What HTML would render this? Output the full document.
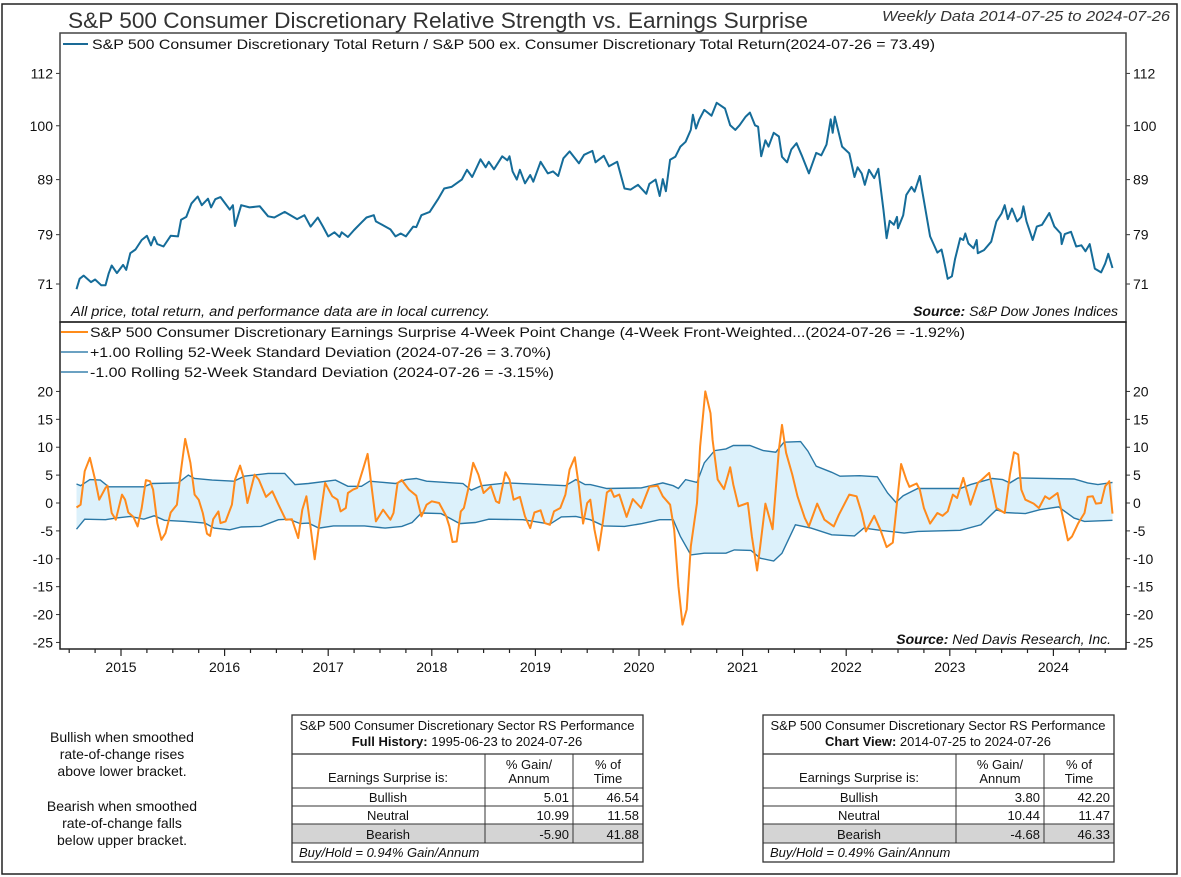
<!DOCTYPE html>
<html><head><meta charset="utf-8">
<style>
html,body{margin:0;padding:0;background:#fff}
svg{display:block;font-family:"Liberation Sans",sans-serif}
</style></head>
<body>
<svg id="chart" width="1181" height="877" viewBox="0 0 1181 877" xmlns="http://www.w3.org/2000/svg">
<rect x="2" y="4" width="1175" height="870" fill="#fff" stroke="#222" stroke-width="1.5"/>
<text x="68" y="28" font-size="22" fill="#333" textLength="740" lengthAdjust="spacingAndGlyphs">S&amp;P 500 Consumer Discretionary Relative Strength vs. Earnings Surprise</text>
<text x="1170" y="21" font-size="15" font-style="italic" fill="#333" text-anchor="end" textLength="288" lengthAdjust="spacingAndGlyphs">Weekly Data 2014-07-25 to 2024-07-26</text>

<g id="gtop"></g>
<g id="gbot"></g>
<g id="xaxis"></g>

<rect x="60" y="33" width="1066" height="289" fill="none" stroke="#444" stroke-width="1.5"/>
<rect x="60" y="322" width="1066" height="327" fill="none" stroke="#222" stroke-width="1.5"/>

<line x1="63" y1="44" x2="88" y2="44" stroke="#1a6a96" stroke-width="2"/>
<text x="92" y="49" font-size="14" fill="#111" textLength="843" lengthAdjust="spacingAndGlyphs">S&amp;P 500 Consumer Discretionary Total Return / S&amp;P 500 ex. Consumer Discretionary Total Return(2024-07-26 = 73.49)</text>
<text x="71" y="316" font-size="13.5" font-style="italic" fill="#111" textLength="419" lengthAdjust="spacingAndGlyphs">All price, total return, and performance data are in local currency.</text>
<text x="1118" y="316" font-size="14" font-style="italic" fill="#111" text-anchor="end"><tspan font-weight="bold">Source:</tspan>   S&amp;P Dow Jones Indices</text>

<line x1="61" y1="332" x2="88" y2="332" stroke="#ff8c1a" stroke-width="2"/>
<text x="90" y="337" font-size="14" fill="#111" textLength="875" lengthAdjust="spacingAndGlyphs">S&amp;P 500 Consumer Discretionary Earnings Surprise 4-Week Point Change (4-Week Front-Weighted...(2024-07-26 = -1.92%)</text>
<line x1="61" y1="352" x2="88" y2="352" stroke="#3a82ad" stroke-width="1.5"/>
<text x="90" y="357" font-size="14" fill="#111" textLength="461" lengthAdjust="spacingAndGlyphs">+1.00 Rolling 52-Week Standard Deviation (2024-07-26 = 3.70%)</text>
<line x1="61" y1="372" x2="88" y2="372" stroke="#3a82ad" stroke-width="1.5"/>
<text x="90" y="377" font-size="14" fill="#111" textLength="464" lengthAdjust="spacingAndGlyphs">-1.00 Rolling 52-Week Standard Deviation (2024-07-26 = -3.15%)</text>
<text x="1111" y="644" font-size="14" font-style="italic" fill="#111" text-anchor="end"><tspan font-weight="bold">Source:</tspan>   Ned Davis Research, Inc.</text>

<g font-size="14" fill="#111" text-anchor="middle">
<text x="122" y="742">Bullish when smoothed</text>
<text x="122" y="759">rate-of-change rises</text>
<text x="122" y="776">above lower bracket.</text>
<text x="122" y="811">Bearish when smoothed</text>
<text x="122" y="828">rate-of-change falls</text>
<text x="122" y="845">below upper bracket.</text>
</g>

<g id="tables"></g>
</svg>

<script>
// ---- data ----
var rsDates=[2014.57,2014.60,2014.64,2014.71,2014.75,2014.81,2014.85,2014.88,2014.91,2014.96,2015.02,2015.05,2015.09,2015.14,2015.20,2015.25,2015.29,2015.32,2015.35,2015.41,2015.48,2015.55,2015.58,2015.63,2015.68,2015.74,2015.78,2015.84,2015.87,2015.91,2015.96,2016.05,2016.08,2016.10,2016.16,2016.24,2016.34,2016.42,2016.48,2016.58,2016.70,2016.77,2016.83,2016.90,2016.95,2017.00,2017.06,2017.11,2017.13,2017.19,2017.25,2017.32,2017.37,2017.44,2017.46,2017.52,2017.60,2017.65,2017.70,2017.75,2017.82,2017.85,2017.90,2017.98,2018.06,2018.12,2018.19,2018.29,2018.34,2018.39,2018.47,2018.52,2018.55,2018.60,2018.68,2018.73,2018.75,2018.78,2018.82,2018.85,2018.90,2018.95,2018.98,2019.05,2019.12,2019.17,2019.22,2019.27,2019.33,2019.42,2019.47,2019.55,2019.58,2019.66,2019.71,2019.79,2019.86,2019.92,2019.99,2020.07,2020.10,2020.16,2020.20,2020.23,2020.26,2020.30,2020.35,2020.40,2020.45,2020.50,2020.52,2020.55,2020.58,2020.63,2020.70,2020.75,2020.83,2020.88,2020.93,2020.97,2021.03,2021.07,2021.12,2021.15,2021.18,2021.22,2021.25,2021.30,2021.35,2021.38,2021.43,2021.47,2021.52,2021.57,2021.64,2021.71,2021.76,2021.81,2021.85,2021.87,2021.89,2021.96,2022.03,2022.08,2022.11,2022.15,2022.18,2022.22,2022.27,2022.31,2022.36,2022.39,2022.42,2022.46,2022.49,2022.50,2022.55,2022.58,2022.63,2022.66,2022.71,2022.73,2022.81,2022.88,2022.92,2022.94,2022.98,2023.02,2023.05,2023.10,2023.13,2023.15,2023.18,2023.23,2023.26,2023.27,2023.33,2023.40,2023.45,2023.50,2023.53,2023.56,2023.60,2023.65,2023.69,2023.71,2023.74,2023.80,2023.84,2023.89,2023.96,2024.01,2024.07,2024.08,2024.11,2024.17,2024.22,2024.27,2024.31,2024.35,2024.40,2024.46,2024.50,2024.53,2024.57];
var rsValues=[70.2,71.8,72.3,71.3,71.7,70.8,70.8,72.6,73.9,72.7,74.0,73.2,75.9,76.5,78.1,78.8,77.2,78.6,77.4,77.0,78.8,78.7,81.6,82.1,84.5,85.8,84.2,85.4,83.8,85.3,85.7,83.4,84.2,80.5,84.2,83.8,84.0,82.2,82.0,83.0,81.7,82.4,80.4,82.0,80.4,78.7,79.4,78.6,79.4,78.6,79.8,81.1,82.0,82.4,81.3,80.7,79.9,78.7,79.2,78.7,80.4,80.3,82.4,83.0,85.3,87.3,87.6,89.0,90.9,89.5,93.0,91.4,92.5,91.0,93.6,92.8,93.6,90.6,89.0,90.9,88.3,89.9,88.6,92.5,90.2,90.6,89.7,93.2,94.6,92.2,93.9,94.7,92.4,93.7,91.6,92.5,87.3,87.1,88.0,86.3,88.2,89.0,85.9,89.1,86.8,92.9,93.5,95.6,96.6,99.1,102.4,99.4,101.3,103.5,102.2,105.1,103.8,100.1,99.1,100.1,102.0,102.9,100.1,99.8,93.6,96.9,95.6,98.5,97.7,93.5,92.4,95.0,96.3,93.8,90.2,94.3,93.8,96.0,101.4,98.5,102.0,95.6,94.2,89.5,91.4,90.2,88.0,90.9,89.3,91.1,83.3,78.4,81.4,80.7,82.1,80.1,82.4,86.1,87.6,86.7,89.7,87.3,78.7,76.0,76.5,75.0,71.8,72.2,74.9,78.4,78.1,79.2,77.5,76.7,78.1,75.9,76.4,77.8,81.3,82.7,84.2,81.7,83.6,81.3,82.1,84.0,81.3,78.1,80.4,80.7,82.8,80.4,79.2,77.4,79.1,79.5,77.0,77.2,76.2,77.4,73.4,72.8,74.2,75.8,73.5];

var esDates=[2014.57,2014.61,2014.65,2014.70,2014.75,2014.79,2014.85,2014.87,2014.91,2014.95,2015.01,2015.04,2015.07,2015.12,2015.16,2015.20,2015.24,2015.28,2015.31,2015.35,2015.39,2015.43,2015.48,2015.54,2015.58,2015.62,2015.67,2015.71,2015.75,2015.79,2015.83,2015.86,2015.89,2015.94,2015.96,2016.01,2016.07,2016.10,2016.15,2016.18,2016.22,2016.29,2016.33,2016.40,2016.46,2016.52,2016.59,2016.65,2016.71,2016.75,2016.79,2016.82,2016.87,2016.91,2016.97,2017.04,2017.09,2017.12,2017.17,2017.19,2017.24,2017.28,2017.34,2017.38,2017.41,2017.46,2017.53,2017.60,2017.63,2017.67,2017.71,2017.78,2017.85,2017.90,2017.95,2018.00,2018.07,2018.14,2018.17,2018.20,2018.24,2018.28,2018.31,2018.35,2018.40,2018.45,2018.50,2018.57,2018.62,2018.65,2018.71,2018.75,2018.79,2018.85,2018.90,2018.95,2018.99,2019.05,2019.09,2019.14,2019.18,2019.24,2019.29,2019.33,2019.38,2019.42,2019.46,2019.50,2019.53,2019.57,2019.61,2019.65,2019.69,2019.73,2019.76,2019.81,2019.88,2019.94,2020.02,2020.10,2020.18,2020.23,2020.30,2020.34,2020.38,2020.42,2020.46,2020.50,2020.56,2020.59,2020.64,2020.69,2020.71,2020.76,2020.82,2020.88,2020.91,2020.96,2021.05,2021.09,2021.14,2021.17,2021.22,2021.29,2021.35,2021.38,2021.42,2021.48,2021.53,2021.60,2021.64,2021.72,2021.79,2021.88,2021.93,2022.03,2022.10,2022.15,2022.19,2022.27,2022.33,2022.39,2022.45,2022.48,2022.53,2022.58,2022.61,2022.68,2022.71,2022.75,2022.81,2022.88,2022.93,2022.98,2023.03,2023.07,2023.13,2023.20,2023.27,2023.31,2023.38,2023.45,2023.53,2023.58,2023.62,2023.66,2023.69,2023.73,2023.81,2023.86,2023.92,2023.96,2024.04,2024.09,2024.14,2024.18,2024.24,2024.30,2024.33,2024.38,2024.41,2024.46,2024.50,2024.54,2024.57];
var esValues=[-0.8,-0.3,5.7,8.1,4.2,0.6,2.7,3.1,-1.8,-3.0,1.5,0.6,-1.7,-2.5,-4.2,-0.9,4.1,3.9,2.4,-3.6,-6.6,-5.4,-1.7,-0.3,6.0,11.5,7.2,1.5,0.6,-1.8,-5.5,-5.9,-2.9,-1.5,-3.6,-3.3,-0.3,4.2,6.7,4.8,0,5.1,4.2,1.1,2.1,-0.3,-3.0,-2.9,-6.3,-1.2,1.2,-3.0,-10.1,-4.2,3.6,1.2,0.6,-1.5,-0.9,1.8,2.4,2.7,6.3,8.8,4.2,-3.3,-1.2,-3.0,-1.8,3.6,4.1,2.4,1.3,-2.4,-0.3,0.3,0,-2.4,-4.2,-7.0,-6.9,-1.5,-0.9,2.4,7.2,5.1,1.8,3.0,0.3,0,5.5,4.2,0.6,1.1,-2.4,-4.5,-1.7,-1.3,-3.6,-3.9,-1.5,-0.9,1.5,6.0,8.2,3.0,-3.7,0,0.6,-4.8,-8.5,-3.6,1.9,2.4,1.1,1.5,-2.5,0.7,-0.9,2.9,3.1,1.2,-0.3,-4.8,-14.9,-21.8,-19.1,-7.8,0,10.1,20.0,16.1,11.3,4.2,2.5,6.4,3.3,-0.6,0,-6.0,-12.1,-7.8,-0.1,-4.7,9.6,14.0,9.0,5.1,1.2,-2.7,-4.2,-0.1,-3.0,-4.2,-2.1,1.5,1.2,-1.8,-5.1,-2.3,-4.8,-7.9,-7.1,-1.8,7.0,4.2,2.9,3.5,2.4,-0.9,-3.7,-1.8,-2.3,-1.5,1.5,0.9,4.5,-0.3,3.6,4.2,5.4,-0.9,-1.8,5.1,9.1,8.7,2.4,0.6,-0.1,-0.9,1.2,0.7,1.8,-2.4,-6.7,-6.0,-3.6,-1.8,1.1,1.2,-0.1,0,3.0,3.9,-1.9];

var upDates=[2014.57,2014.61,2014.70,2014.80,2014.88,2015.22,2015.30,2015.55,2015.65,2015.71,2015.88,2016.09,2016.19,2016.42,2016.58,2016.68,2016.81,2017.07,2017.19,2017.32,2017.40,2017.65,2017.75,2017.85,2017.95,2018.30,2018.38,2018.48,2018.72,2019.29,2019.39,2019.48,2019.53,2019.69,2020.02,2020.23,2020.33,2020.38,2020.45,2020.56,2020.63,2020.73,2020.84,2020.91,2021.07,2021.20,2021.32,2021.40,2021.56,2021.63,2021.71,2021.86,2021.94,2022.13,2022.30,2022.40,2022.48,2022.55,2022.69,2023.10,2023.20,2023.41,2023.51,2023.58,2023.66,2024.20,2024.33,2024.43,2024.57];
var upValues=[3.4,3.1,4.2,4.1,2.9,2.9,3.5,3.6,5.0,4.4,4.1,3.9,4.8,5.3,5.3,3.3,3.5,4.1,3.0,3.0,3.9,3.5,4.2,4.4,3.9,3.5,2.3,3.1,3.6,3.1,4.2,3.3,3.3,2.6,2.7,3.6,3.1,2.6,4.2,3.7,7.2,9.4,9.7,10.3,10.3,9.4,9.1,10.9,11.0,9.3,6.6,5.5,4.8,4.9,4.7,1.8,0.1,1.3,2.6,2.6,3.3,4.4,4.2,3.6,4.5,4.3,3.6,3.3,3.7];

var loDates=[2014.57,2014.65,2014.85,2014.95,2015.09,2015.22,2015.32,2015.42,2015.62,2015.81,2015.90,2016.05,2016.16,2016.35,2016.52,2016.62,2016.73,2016.81,2016.91,2017.05,2017.35,2017.55,2017.71,2017.81,2017.90,2018.09,2018.15,2018.27,2018.42,2018.55,2018.88,2019.08,2019.14,2019.25,2019.39,2019.53,2019.66,2019.86,2020.03,2020.20,2020.33,2020.40,2020.50,2020.63,2020.84,2020.92,2021.08,2021.17,2021.30,2021.38,2021.51,2021.66,2021.86,2022.08,2022.17,2022.33,2022.56,2022.69,2023.10,2023.30,2023.45,2023.53,2023.73,2023.87,2024.05,2024.20,2024.30,2024.57];
var loValues=[-4.7,-2.9,-3.0,-2.7,-2.4,-2.9,-2.3,-3.1,-3.3,-3.6,-4.5,-4.8,-4.3,-4.2,-3.0,-2.9,-3.7,-3.6,-4.5,-4.1,-4.1,-4.5,-4.2,-3.5,-1.8,-1.9,-2.5,-3.7,-3.5,-2.9,-3.0,-3.6,-3.8,-2.5,-2.4,-3.0,-4.1,-4.2,-3.7,-3.0,-3.0,-6.0,-9.3,-9.0,-9.0,-8.4,-8.5,-9.9,-10.4,-9.0,-3.9,-4.5,-5.7,-5.9,-4.5,-4.9,-5.4,-5.1,-4.9,-3.9,-1.2,-1.7,-1.9,-1.2,-0.7,-2.7,-3.3,-3.1];

var topTicks=[71,79,89,100,112];
var botTicks=[20,15,10,5,0,-5,-10,-15,-20,-25];
var yearLabels=[2015,2016,2017,2018,2019,2020,2021,2022,2023,2024];

// ---- axes ----
var NS="http://www.w3.org/2000/svg";
function xS(yr){return 121+(yr-2015)*103.6;}
function yTop(v){return 284-(Math.log(v)-Math.log(71))*462;}
function yBot(v){return 503-v*5.578;}
function mk(tag,attrs,parent){var e=document.createElementNS(NS,tag);for(var k in attrs)e.setAttribute(k,attrs[k]);parent.appendChild(e);return e;}
function pts(ds,vs,fy){var s=[];for(var i=0;i<ds.length;i++)s.push(xS(ds[i]).toFixed(1)+","+fy(vs[i]).toFixed(1));return s;}

var gTop=document.getElementById('gtop'), gBot=document.getElementById('gbot'), xa=document.getElementById('xaxis');

topTicks.forEach(function(t){
  var y=yTop(t);
  var a=mk('line',{x1:56,y1:y,x2:60,y2:y,stroke:'#333'},gTop);
  
  
  var b=mk('line',{x1:1126,y1:y,x2:1130,y2:y,stroke:'#333'},gTop);
  
  
  var l=mk('text',{x:53,y:y+5,'font-size':14,'text-anchor':'end',fill:'#111'},gTop);l.textContent=t;
  
  
  var r=mk('text',{x:1133,y:y+5,'font-size':14,fill:'#111'},gTop);r.textContent=t;
  
  
});
var rsl=mk('polyline',{points:pts(rsDates,rsValues,yTop).join(' '),fill:'none',stroke:'#156c99','stroke-width':2,'stroke-linejoin':'round'},gTop);



botTicks.forEach(function(t){
  var y=yBot(t);
  var a=mk('line',{x1:56,y1:y,x2:60,y2:y,stroke:'#333'},gBot);
  
  
  var b=mk('line',{x1:1126,y1:y,x2:1130,y2:y,stroke:'#333'},gBot);
  
  
  var l=mk('text',{x:53,y:y+5,'font-size':14,'text-anchor':'end',fill:'#111'},gBot);l.textContent=t;
  
  
  var r=mk('text',{x:1133,y:y+5,'font-size':14,fill:'#111'},gBot);r.textContent=t;
  
  
});
var upP=pts(upDates,upValues,yBot), loP=pts(loDates,loValues,yBot).reverse();
var band=mk('polygon',{points:upP.concat(loP).join(' '),fill:'#dcf1fb',stroke:'none'},gBot);


var ul=mk('polyline',{points:pts(upDates,upValues,yBot).join(' '),fill:'none',stroke:'#2a78a6','stroke-width':1.4},gBot);


var ll=mk('polyline',{points:pts(loDates,loValues,yBot).join(' '),fill:'none',stroke:'#2a78a6','stroke-width':1.4},gBot);


var es=mk('polyline',{points:pts(esDates,esValues,yBot).join(' '),fill:'none',stroke:'#ff8a1c','stroke-width':2,'stroke-linejoin':'round'},gBot);



for(var yr=2014;yr<=2024;yr++){
  for(var q=0;q<4;q++){
    var d=yr+q/4, x=xS(d);
    if(x<61||x>1125)continue;
    var tk=mk('line',{x1:x,y1:649,x2:x,y2:q===0?656:653,stroke:'#222','stroke-width':1.2},xa);
    
    
  }
}
yearLabels.forEach(function(yr){
  var t=mk('text',{x:xS(yr),y:672,'font-size':14,'text-anchor':'middle',fill:'#111'},xa);t.textContent=yr;
  
  
});

// ---- tables ----
var tb=document.getElementById('tables');
function table(x0,name,h2b,h2,rows,bh){
  var g=mk('g',{},tb);
  
  
  var c1=x0+193,c2=x0+281,x1=x0+351;
  mk('rect',{x:x0,y:824,width:351,height:19,fill:'#d4d4d4'},g);
  mk('rect',{x:x0,y:715,width:351,height:147,fill:'none',stroke:'#333','stroke-width':1.3},g);
  [754,788,806,824,843].forEach(function(y){mk('line',{x1:x0,y1:y,x2:x1,y2:y,stroke:'#333','stroke-width':y===754?1.3:1},g);});
  [c1,c2].forEach(function(x){mk('line',{x1:x,y1:754,x2:x,y2:843,stroke:'#333'},g);});
  function tx(x,y,s,anc,extra){var a={x:x,y:y,'font-size':13,fill:'#111','text-anchor':anc};if(extra){for(var k in extra)a[k]=extra[k];}var t=mk('text',a,g);t.textContent=s;return t;}
  tx(x0+175,730,'S&P 500 Consumer Discretionary Sector RS Performance','middle');
  var t2=mk('text',{x:x0+175,y:746,'font-size':13,fill:'#111','text-anchor':'middle'},g);
  var b=mk('tspan',{'font-weight':'bold'},t2);b.textContent=h2b;
  var r=mk('tspan',{},t2);r.textContent=h2;
  tx(x0+96,782,'Earnings Surprise is:','middle');
  tx((c1+c2)/2,769,'% Gain/','middle');tx((c1+c2)/2,783,'Annum','middle');
  tx((c2+x1)/2,769,'% of','middle');tx((c2+x1)/2,783,'Time','middle');
  var ys=[802,820,839];
  rows.forEach(function(rw,i){tx(x0+96,ys[i],rw[0],'middle');tx(c2-4,ys[i],rw[1],'end');tx(x1-4,ys[i],rw[2],'end');});
  tx(x0+7,857,bh,'start',{'font-style':'italic'});
}
table(292,'full-history-table','Full History:',' 1995-06-23 to 2024-07-26',[['Bullish','5.01','46.54'],['Neutral','10.99','11.58'],['Bearish','-5.90','41.88']],'Buy/Hold = 0.94% Gain/Annum');
table(763,'chart-view-table','Chart View:',' 2014-07-25 to 2024-07-26',[['Bullish','3.80','42.20'],['Neutral','10.44','11.47'],['Bearish','-4.68','46.33']],'Buy/Hold = 0.49% Gain/Annum');
</script>
</body></html>
